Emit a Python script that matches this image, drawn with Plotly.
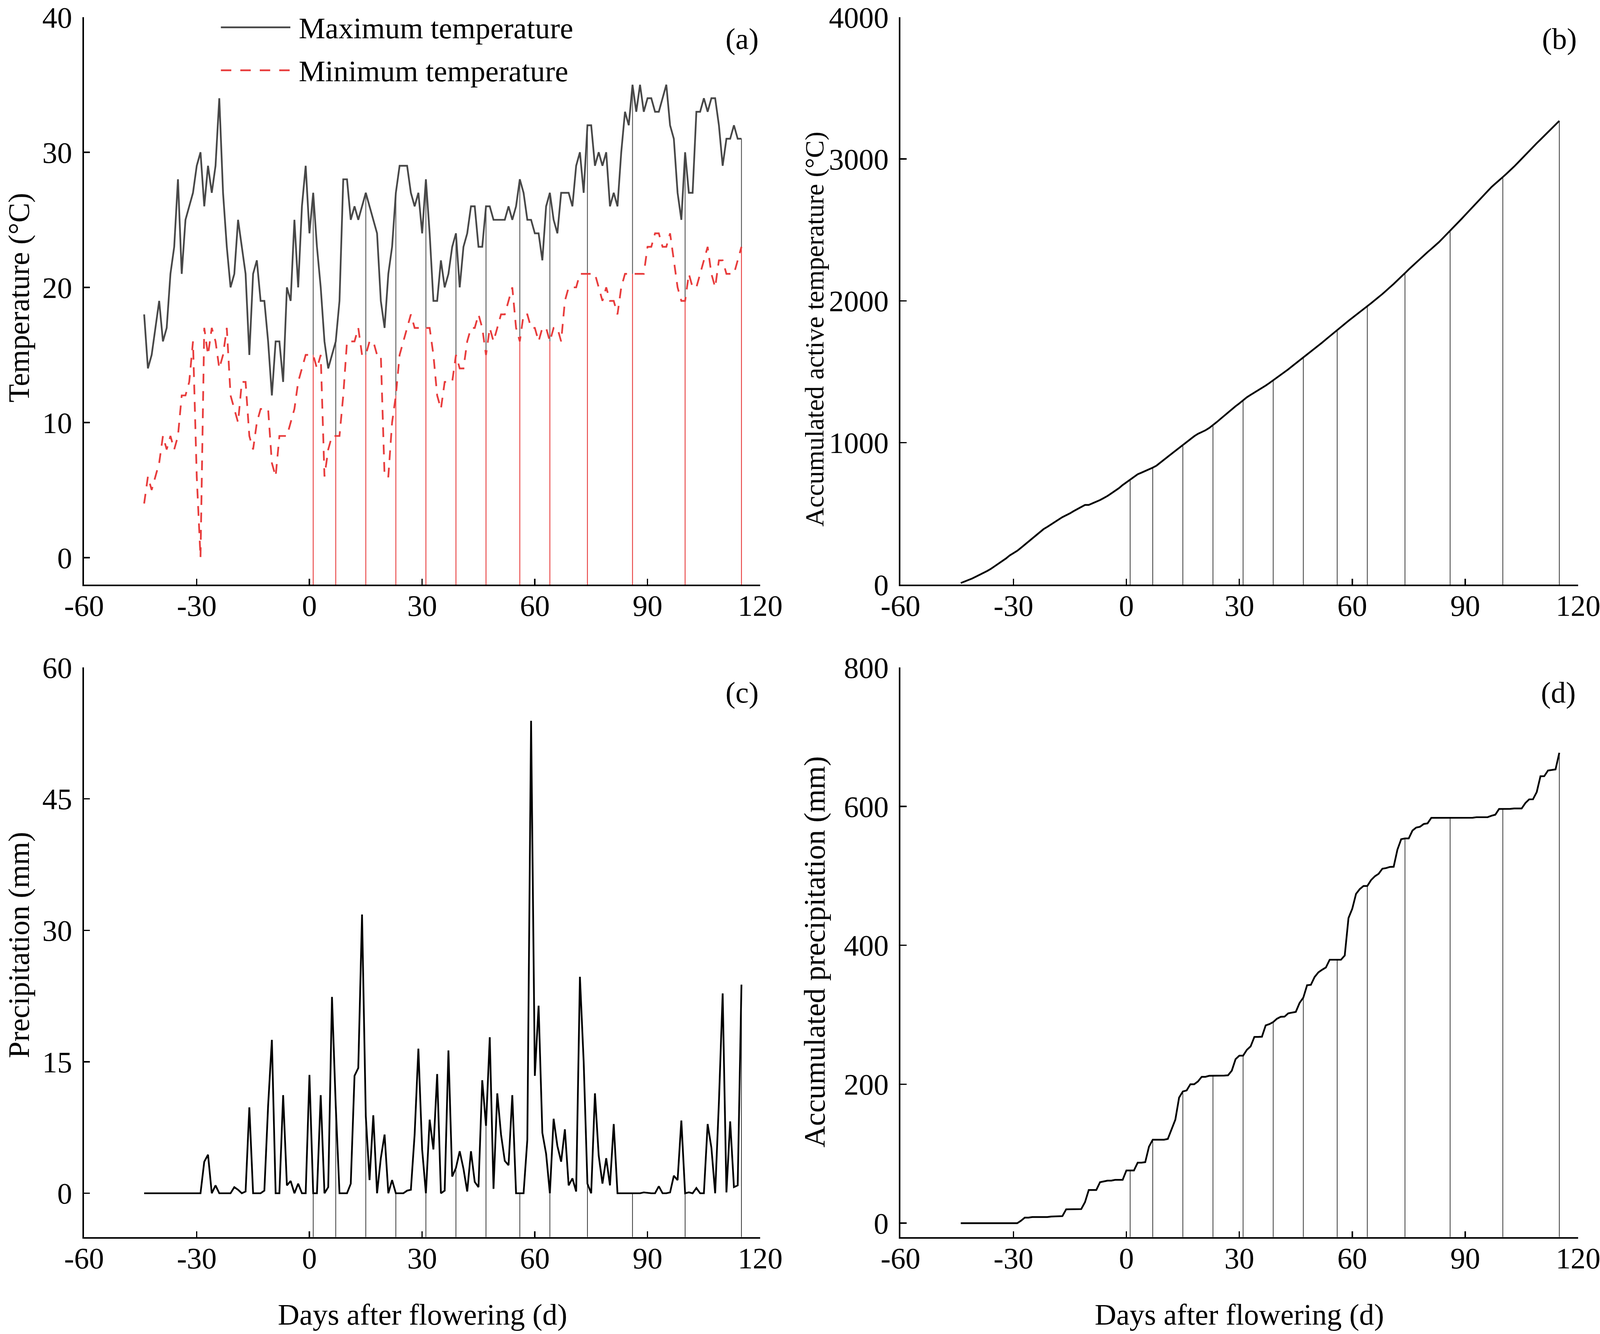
import numpy as np
import plotly.graph_objects as go

# days after flowering, -44 .. 115
days = list(range(-44, 116))

t_max = [
    18, 14, 15, 17, 19, 16, 17, 21, 23, 28,
    21, 25, 26, 27, 29, 30, 26, 29, 27, 29,
    34, 27, 23, 20, 21, 25, 23, 21, 15, 21,
    22, 19, 19, 16, 12, 16, 16, 13, 20, 19,
    25, 20, 26, 29, 24, 27, 23, 20, 16, 14,
    15, 16, 19, 28, 28, 25, 26, 25, 26, 27,
    26, 25, 24, 19, 17, 21, 23, 27, 29, 29,
    29, 27, 26, 27, 24, 28, 24, 19, 19, 22,
    20, 21, 23, 24, 20, 23, 24, 26, 26, 23,
    23, 26, 26, 25, 25, 25, 25, 26, 25, 26,
    28, 27, 25, 25, 24, 24, 22, 26, 27, 25,
    24, 27, 27, 27, 26, 29, 30, 27, 32, 32,
    29, 30, 29, 30, 26, 27, 26, 30, 33, 32,
    35, 33, 35, 33, 34, 34, 33, 33, 34, 35,
    32, 31, 27, 25, 30, 27, 27, 33, 33, 34,
    33, 34, 34, 32, 29, 31, 31, 32, 31, 31,
]

t_min = [
    4, 6, 5, 6, 7, 9, 8, 9, 8, 9,
    12, 12, 13, 16, 6, 0, 17, 15, 17, 16,
    14, 15, 17, 12, 11, 10, 13, 13, 9, 8,
    10, 11, 11, 11, 7, 6, 9, 9, 9, 10,
    11, 13, 14, 15, 15, 15, 14, 15, 6, 8,
    9, 9, 9, 12, 16, 16, 16, 17, 15, 15,
    16, 16, 15, 15, 6, 6, 10, 12, 15, 16,
    17, 18, 17, 17, 17, 17, 17, 15, 12, 11,
    13, 13, 13, 15, 14, 14, 16, 17, 17, 18,
    17, 15, 17, 16, 17, 18, 18, 19, 20, 17,
    16, 18, 18, 17, 17, 16, 17, 17, 16, 17,
    17, 16, 19, 20, 20, 20, 21, 21, 21, 21,
    21, 20, 19, 20, 19, 19, 18, 20, 21, 21,
    21, 21, 21, 21, 23, 23, 24, 24, 23, 23,
    24, 22, 20, 19, 19, 21, 20, 20, 21, 22,
    23, 21, 20, 22, 22, 21, 21, 21, 22, 23,
]

precip = [
    0, 0, 0, 0, 0, 0, 0, 0, 0, 0,
    0, 0, 0, 0, 0, 0, 3.6, 4.4, 0, 0.9,
    0, 0, 0, 0, 0.7, 0.4, 0, 0.2, 9.8, 0,
    0, 0, 0.3, 10, 17.5, 0, 0, 11.2, 0.9, 1.4,
    0, 1.1, 0, 0, 13.5, 0, 0, 11.2, 0, 0.7,
    22.4, 10, 0, 0, 0, 1.1, 13.4, 14.3, 31.8, 8.8,
    1.5, 8.9, 0, 4, 6.7, 0, 1.5, 0, 0, 0,
    0.3, 0.4, 6.7, 16.5, 5, 0, 8.4, 5, 13.6, 0,
    0.3, 16.3, 1.9, 2.9, 4.8, 2.8, 0.2, 4.8, 1.3, 0.7,
    12.9, 7.7, 17.8, 0.5, 11.4, 6.7, 3.7, 3.2, 11.2, 0,
    0, 0, 6.1, 53.9, 13.4, 21.4, 6.9, 4.5, 0, 8.5,
    5.4, 3.6, 7.3, 0.9, 1.7, 0.2, 24.7, 15, 1.1, 0,
    11.4, 4.3, 1.1, 4, 0.9, 7.9, 0, 0, 0, 0,
    0, 0, 0, 0.1, 0.05, 0, 0, 0.8, 0, 0,
    0.1, 2, 1.5, 8.3, 0, 0.1, 0, 0.6, 0, 0,
    7.9, 5.2, 0, 10.4, 22.8, 0.1, 8.2, 0.7, 0.9, 23.8,
]

sample_days = [1, 7, 15, 23, 31, 39, 47, 56, 64, 74, 86, 100, 115]

x_ticks = [-60, -30, 0, 30, 60, 90, 120]
x_ticktext = ["-60", "-30", "0", "30", "60", "90", "120"]

# accumulated values
t_mean = (np.array(t_max) + np.array(t_min)) / 2
active = np.where(t_mean >= 10, t_mean, 0)
acc_temp = np.cumsum(active)
acc_precip = np.cumsum(precip)

FONT = "Liberation Serif"
FS = 86
W, H = 4607, 3416

idx = {d: i for i, d in enumerate(days)}


def stems(values, base):
    xs, ys = [], []
    for d in sample_days:
        xs += [d, d, None]
        ys += [base, values[idx[d]], None]
    return xs, ys


fig = go.Figure()

# (a) temperature
xs, ys = stems(t_min, -2)
fig.add_trace(go.Scatter(x=xs, y=ys, mode="lines", line=dict(color="#e83c3c", width=2.5),
                         xaxis="x", yaxis="y", hoverinfo="skip"))
xs, ys = [], []
for d in sample_days:
    xs += [d, d, None]
    ys += [t_min[idx[d]], t_max[idx[d]], None]
fig.add_trace(go.Scatter(x=xs, y=ys, mode="lines", line=dict(color="#555555", width=2.5),
                         xaxis="x", yaxis="y", hoverinfo="skip"))
fig.add_trace(go.Scatter(x=days, y=t_max, mode="lines", name="Maximum temperature",
                         line=dict(color="#474747", width=5), xaxis="x", yaxis="y"))
fig.add_trace(go.Scatter(x=days, y=t_min, mode="lines", name="Minimum temperature",
                         line=dict(color="#e83c3c", width=5, dash="28px,22px"),
                         xaxis="x", yaxis="y"))

# (b) accumulated active temperature
xs, ys = stems(acc_temp, 0)
fig.add_trace(go.Scatter(x=xs, y=ys, mode="lines", line=dict(color="#222222", width=2),
                         xaxis="x2", yaxis="y2", hoverinfo="skip"))
fig.add_trace(go.Scatter(x=days, y=acc_temp, mode="lines", line=dict(color="black", width=5),
                         xaxis="x2", yaxis="y2"))

# (c) precipitation
xs, ys = stems(precip, -5)
fig.add_trace(go.Scatter(x=xs, y=ys, mode="lines", line=dict(color="#222222", width=2),
                         xaxis="x3", yaxis="y3", hoverinfo="skip"))
fig.add_trace(go.Scatter(x=days, y=precip, mode="lines", line=dict(color="black", width=5),
                         xaxis="x3", yaxis="y3"))

# (d) accumulated precipitation
xs, ys = stems(acc_precip, -20)
fig.add_trace(go.Scatter(x=xs, y=ys, mode="lines", line=dict(color="#222222", width=2),
                         xaxis="x4", yaxis="y4", hoverinfo="skip"))
fig.add_trace(go.Scatter(x=days, y=acc_precip, mode="lines", line=dict(color="black", width=5),
                         xaxis="x4", yaxis="y4"))

axis_style = dict(
    showline=True, linecolor="black", linewidth=5, mirror=False,
    ticks="inside", ticklen=17, tickwidth=4, tickcolor="black",
    showgrid=False, zeroline=False,
    tickfont=dict(family=FONT, size=FS, color="black"),
    automargin=False, ticklabeloverflow="allow",
)

left = [242 / W, 2189 / W]
right = [2593 / W, 4544 / W]
top = [1 - 1497 / H, 1 - 44 / H]
bottom = [1 - 3168 / H, 1 - 1709 / H]

layout = dict(
    width=W, height=H,
    margin=dict(l=0, r=0, t=0, b=0),
    paper_bgcolor="white", plot_bgcolor="white",
    showlegend=False,
    font=dict(family=FONT, size=FS, color="black"),
)

for n, (dom_x, dom_y, yr, ydt) in enumerate([
    (left, top, [-2, 40], 10),
    (right, top, [0, 4000], 1000),
    (left, bottom, [-5, 60], 15),
    (right, bottom, [-20, 800], 200),
], start=1):
    sfx = "" if n == 1 else str(n)
    layout["xaxis" + sfx] = dict(axis_style, domain=dom_x, range=[-60, 120],
                                 tickvals=x_ticks, ticktext=x_ticktext,
                                 anchor="y" + sfx, ticklabelstandoff=-18)
    layout["yaxis" + sfx] = dict(axis_style, domain=dom_y, range=yr, dtick=ydt,
                                 tick0=0, anchor="x" + sfx, ticklabelstandoff=12)

fig.update_layout(**layout)

ann = []
# axis titles
ann.append(dict(text="Temperature (°C)", x=54 / W, y=1 - 762 / H, textangle=-90))
ann.append(dict(text="Accumulated active temperature (°C)", x=2345 / W, y=1 - 843 / H,
                textangle=-90, font=dict(family=FONT, size=76, color="black")))
ann.append(dict(text="Precipitation (mm)", x=54 / W, y=1 - 2420 / H, textangle=-90))
ann.append(dict(text="Accumulated precipitation (mm)", x=2345 / W, y=1 - 2438 / H,
                textangle=-90))
ann.append(dict(text="Days after flowering (d)", x=1216 / W, y=1 - 3366 / H))
ann.append(dict(text="Days after flowering (d)", x=3568 / W, y=1 - 3366 / H))
# panel labels
for lab, px_, py_ in [("(a)", 2136, 100), ("(b)", 4490, 100),
                      ("(c)", 2136, 1774), ("(d)", 4487, 1774)]:
    ann.append(dict(text=lab, x=px_ / W, y=1 - py_ / H))
# legend text
ann.append(dict(text="Maximum temperature", x=858 / W, y=1 - 72 / H, xanchor="left"))
ann.append(dict(text="Minimum temperature", x=858 / W, y=1 - 182 / H, xanchor="left"))

for a in ann:
    a.setdefault("xref", "paper")
    a.setdefault("yref", "paper")
    a.setdefault("showarrow", False)
    a.setdefault("xanchor", "center")
    a.setdefault("yanchor", "middle")
    a.setdefault("font", dict(family=FONT, size=FS, color="black"))
    fig.add_annotation(**a)

# legend samples
fig.add_shape(type="line", xref="paper", yref="paper", x0=636 / W, x1=836 / W,
              y0=1 - 70 / H, y1=1 - 70 / H, line=dict(color="#474747", width=5))
fig.add_shape(type="line", xref="paper", yref="paper", x0=636 / W, x1=836 / W,
              y0=1 - 180 / H, y1=1 - 180 / H,
              line=dict(color="#e83c3c", width=5, dash="30px,26px"))

# fit the figure to the browser viewport: scale by width, stretch the layout height
fit_js = """
document.documentElement.style.overflow = 'hidden';
document.body.style.overflow = 'hidden';
document.body.style.margin = '0';
var gd = document.getElementById('{plot_id}');
var k = window.innerWidth / %d;
var hh = Math.round(window.innerHeight / k);
var box = gd.parentElement;
box.style.width = window.innerWidth + 'px';
box.style.height = window.innerHeight + 'px';
box.style.overflow = 'hidden';
gd.style.transformOrigin = '0 0';
gd.style.transform = 'scale(' + k + ')';
return Plotly.relayout(gd, {height: hh});
""" % W

fig.write_html("out.html", post_script=fit_js, config={"displayModeBar": False})
